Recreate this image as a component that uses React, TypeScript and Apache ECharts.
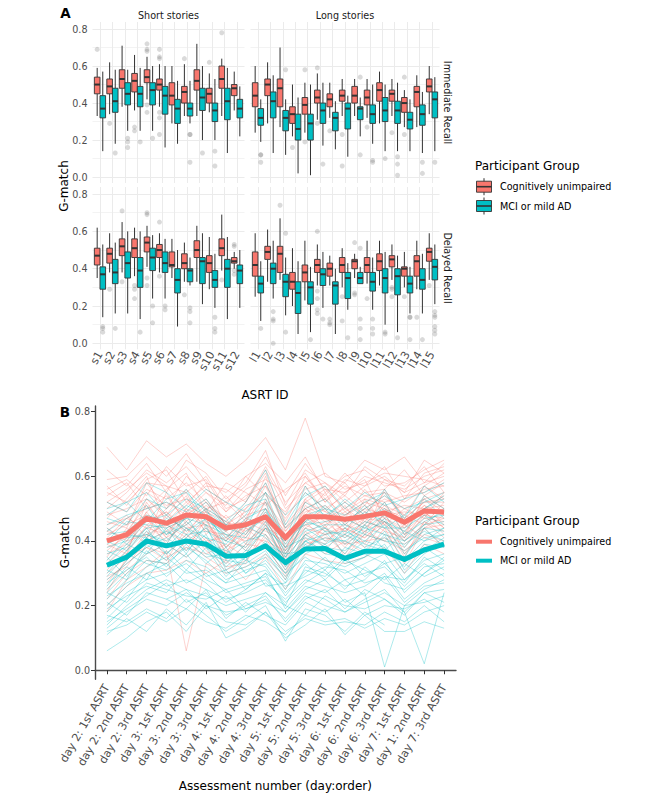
import React, { useEffect, useRef } from 'react';
import * as echarts from 'echarts';

// ---------- categories / labels ----------
const shortIds = ['s1', 's2', 's3', 's4', 's5', 's6', 's7', 's8', 's9', 's10', 's11', 's12'];
const longIds = ['l1', 'l2', 'l3', 'l4', 'l5', 'l6', 'l7', 'l8', 'l9', 'l10', 'l11', 'l12', 'l13', 'l14', 'l15'];
const sessionLabels = [
  'day 2: 1st ASRT', 'day 2: 2nd ASRT', 'day 2: 3rd ASRT',
  'day 3: 1st ASRT', 'day 3: 2nd ASRT', 'day 3: 3rd ASRT',
  'day 4: 1st ASRT', 'day 4: 2nd ASRT', 'day 4: 3rd ASRT',
  'day 5: 1st ASRT', 'day 5: 2nd ASRT', 'day 5: 3rd ASRT',
  'day 6: 1st ASRT', 'day 6: 2nd ASRT', 'day 6: 3rd ASRT',
  'day 7: 1st ASRT', 'day 1: 2nd ASRT', 'day 7: 3rd ASRT',
];
const yMajor = [0, 0.2, 0.4, 0.6, 0.8];
const yMinor = [0, 0.1, 0.2, 0.3, 0.4, 0.5, 0.6, 0.7, 0.8];
const groupNames = ['Cognitively unimpaired', 'MCI or mild AD'];

// ---------- Panel A: box stats [lowWhisker, Q1, median, Q3, highWhisker] ----------
const shortImmCU = [
  [0.33, 0.45, 0.50, 0.54, 0.59], [0.34, 0.45, 0.49, 0.53, 0.62], [0.38, 0.48, 0.53, 0.58, 0.71],
  [0.36, 0.46, 0.52, 0.56, 0.66], [0.42, 0.51, 0.54, 0.58, 0.65], [0.38, 0.47, 0.50, 0.53, 0.61],
  [0.29, 0.39, 0.44, 0.51, 0.60], [0.33, 0.40, 0.46, 0.49, 0.61], [0.33, 0.47, 0.52, 0.58, 0.72],
  [0.35, 0.40, 0.45, 0.48, 0.56], [0.33, 0.48, 0.53, 0.60, 0.64], [0.36, 0.44, 0.48, 0.50, 0.57],
];
const shortImmCUOut = [[0.69], [0.29], [], [0.27, 0.25], [0.72, 0.69, 0.68, 0.39, 0.35], [0.69, 0.65, 0.64, 0.35, 0.32, 0.23], [], [0.64], [], [0.62], [0.78], []];
const shortImmMCI = [
  [0.14, 0.32, 0.37, 0.44, 0.57], [0.18, 0.35, 0.41, 0.48, 0.58], [0.25, 0.39, 0.45, 0.51, 0.58],
  [0.25, 0.38, 0.45, 0.49, 0.59], [0.25, 0.39, 0.47, 0.51, 0.60], [0.16, 0.34, 0.44, 0.49, 0.60],
  [0.18, 0.29, 0.37, 0.42, 0.52], [0.29, 0.33, 0.37, 0.40, 0.52], [0.20, 0.36, 0.43, 0.48, 0.60],
  [0.20, 0.30, 0.36, 0.40, 0.53], [0.13, 0.31, 0.41, 0.48, 0.59], [0.22, 0.32, 0.37, 0.42, 0.49],
];
const shortImmMCIOut = [[], [0.13], [0.21, 0.19, 0.16], [0.19], [0.21], [], [], [0.23, 0.23, 0.08], [0.13], [0.14, 0.06], [], []];

const longImmCU = [
  [0.24, 0.38, 0.44, 0.51, 0.60], [0.29, 0.44, 0.50, 0.53, 0.62], [0.27, 0.38, 0.48, 0.53, 0.70],
  [0.22, 0.29, 0.34, 0.38, 0.50], [0.24, 0.34, 0.39, 0.43, 0.51], [0.31, 0.40, 0.43, 0.47, 0.56],
  [0.32, 0.38, 0.42, 0.45, 0.51], [0.33, 0.41, 0.44, 0.47, 0.53], [0.33, 0.40, 0.44, 0.49, 0.53],
  [0.32, 0.39, 0.43, 0.47, 0.53], [0.29, 0.41, 0.47, 0.51, 0.57], [0.33, 0.41, 0.45, 0.47, 0.53],
  [0.27, 0.35, 0.40, 0.43, 0.47], [0.27, 0.38, 0.46, 0.49, 0.55], [0.34, 0.46, 0.49, 0.53, 0.60],
];
const longImmCUOut = [[], [], [], [0.16], [0.58, 0.19], [0.59, 0.29], [0.25], [0.23, 0.06], [], [0.27], [], [0.24], [0.54, 0.23], [], []];
const longImmMCI = [
  [0.19, 0.28, 0.32, 0.37, 0.42], [0.13, 0.32, 0.41, 0.46, 0.55], [0.12, 0.25, 0.32, 0.36, 0.42],
  [0.02, 0.20, 0.26, 0.34, 0.43], [0.01, 0.20, 0.29, 0.34, 0.50], [0.17, 0.29, 0.36, 0.40, 0.51],
  [0.15, 0.25, 0.32, 0.35, 0.41], [0.11, 0.26, 0.37, 0.40, 0.44], [0.22, 0.31, 0.37, 0.38, 0.43],
  [0.18, 0.29, 0.34, 0.39, 0.50], [0.14, 0.30, 0.36, 0.43, 0.50], [0.14, 0.29, 0.36, 0.41, 0.51],
  [0.14, 0.26, 0.31, 0.35, 0.42], [0.13, 0.28, 0.34, 0.39, 0.46], [0.14, 0.32, 0.42, 0.46, 0.54],
];
const longImmMCIOut = [[0.12, 0.12, 0.08], [], [0.58], [], [], [0.07], [], [], [0.54, 0.12], [0.09, 0.08], [0.10], [0.11, 0.07, 0.01], [], [0.08, 0.02], [0.08]];

const shortDelCU = [
  [0.35, 0.42, 0.47, 0.51, 0.62], [0.38, 0.43, 0.48, 0.51, 0.59], [0.38, 0.47, 0.52, 0.56, 0.65],
  [0.36, 0.46, 0.51, 0.56, 0.62], [0.41, 0.49, 0.54, 0.57, 0.63], [0.38, 0.46, 0.50, 0.53, 0.59],
  [0.35, 0.41, 0.42, 0.49, 0.56], [0.33, 0.40, 0.43, 0.48, 0.54], [0.33, 0.46, 0.50, 0.55, 0.63],
  [0.29, 0.38, 0.43, 0.47, 0.57], [0.39, 0.47, 0.51, 0.56, 0.69], [0.40, 0.43, 0.44, 0.46, 0.49],
];
const shortDelCUOut = [[], [0.29], [0.71, 0.33], [0.31, 0.29, 0.24], [0.70, 0.69, 0.35, 0.31], [0.65, 0.36], [], [0.26], [], [], [0.34], [0.53, 0.52, 0.39, 0.37]];
const shortDelMCI = [
  [0.14, 0.29, 0.37, 0.41, 0.53], [0.16, 0.32, 0.38, 0.45, 0.54], [0.16, 0.35, 0.43, 0.49, 0.60],
  [0.13, 0.30, 0.39, 0.46, 0.60], [0.24, 0.39, 0.46, 0.51, 0.58], [0.24, 0.38, 0.43, 0.49, 0.56],
  [0.09, 0.27, 0.34, 0.40, 0.50], [0.31, 0.33, 0.39, 0.40, 0.46], [0.21, 0.32, 0.44, 0.46, 0.59],
  [0.19, 0.30, 0.34, 0.39, 0.48], [0.13, 0.30, 0.40, 0.45, 0.57], [0.19, 0.32, 0.39, 0.42, 0.50],
];
const shortDelMCIOut = [[0.09, 0.08, 0.06], [0.08], [], [0.06], [0.20, 0.11], [0.20, 0.18], [], [0.19, 0.17, 0.11], [], [0.14, 0.08, 0.06], [], []];

const longDelCU = [
  [0.25, 0.36, 0.42, 0.49, 0.59], [0.33, 0.45, 0.49, 0.52, 0.61], [0.34, 0.38, 0.48, 0.52, 0.67],
  [0.20, 0.29, 0.33, 0.38, 0.51], [0.23, 0.33, 0.38, 0.42, 0.55], [0.31, 0.38, 0.42, 0.45, 0.53],
  [0.31, 0.36, 0.40, 0.43, 0.47], [0.30, 0.38, 0.42, 0.46, 0.51], [0.35, 0.40, 0.44, 0.45, 0.48],
  [0.32, 0.38, 0.42, 0.46, 0.55], [0.31, 0.39, 0.44, 0.48, 0.55], [0.34, 0.41, 0.45, 0.47, 0.53],
  [0.30, 0.36, 0.40, 0.41, 0.49], [0.29, 0.36, 0.44, 0.47, 0.55], [0.34, 0.44, 0.49, 0.51, 0.59],
];
const longDelCUOut = [[], [], [0.74], [], [], [0.60, 0.28, 0.24, 0.18, 0.16], [0.13, 0.11, 0.10], [0.25, 0.12], [0.54, 0.27, 0.26], [0.24], [], [0.30, 0.29, 0.25], [0.25], [0.14], [0.31]];
const longDelMCI = [
  [0.12, 0.27, 0.32, 0.36, 0.44], [0.24, 0.32, 0.40, 0.43, 0.55], [0.15, 0.25, 0.33, 0.37, 0.46],
  [0.05, 0.16, 0.27, 0.33, 0.44], [0.06, 0.21, 0.30, 0.33, 0.41], [0.19, 0.31, 0.37, 0.40, 0.49],
  [0.05, 0.21, 0.31, 0.33, 0.40], [0.18, 0.24, 0.35, 0.38, 0.43], [0.32, 0.32, 0.35, 0.38, 0.41],
  [0.18, 0.28, 0.33, 0.38, 0.46], [0.10, 0.27, 0.35, 0.40, 0.49], [0.06, 0.26, 0.36, 0.40, 0.47],
  [0.16, 0.27, 0.32, 0.36, 0.41], [0.16, 0.29, 0.34, 0.40, 0.48], [0.21, 0.34, 0.41, 0.45, 0.53],
];
const longDelMCIOut = [[0.08], [0.17, 0.13, 0.12, 0.0], [0.59, 0.06], [], [0.02], [0.13], [], [0.03], [0.51, 0.13, 0.08, 0.02], [0.13, 0.08, 0.05], [0.06, 0.05], [0.03], [0.14, 0.14, 0.02], [0.02], [0.17, 0.15, 0.14, 0.09, 0.07, 0.05]];

// ---------- Panel B: group means and individual trajectories (G-match x100) ----------
const cuMean = [0.40, 0.42, 0.47, 0.455, 0.48, 0.475, 0.44, 0.45, 0.475, 0.41, 0.475, 0.475, 0.467, 0.476, 0.487, 0.458, 0.493, 0.49];
const mciMean = [0.325, 0.35, 0.40, 0.385, 0.40, 0.39, 0.353, 0.355, 0.385, 0.333, 0.375, 0.377, 0.346, 0.368, 0.368, 0.343, 0.372, 0.39];

const cuLines = [
  [69, 62, 71, 66, 70, 64, 60, 65, 72, 62, 78, 60, 58, 65, 62, 66, 58, 64],
  [59, 60, 66, 60, 67, 58, 55, 60, 64, 58, 66, 55, 60, 62, 57, 58, 62, 65],
  [55, 52, 58, 57, 55, 60, 50, 53, 62, 50, 56, 58, 52, 57, 60, 55, 58, 60],
  [52, 49, 56, 53, 58, 52, 47, 50, 58, 45, 52, 56, 50, 54, 55, 52, 56, 57],
  [48, 50, 53, 48, 56, 50, 52, 46, 55, 47, 55, 50, 54, 49, 53, 50, 53, 55],
  [45, 47, 50, 52, 48, 53, 45, 49, 52, 44, 50, 53, 48, 52, 50, 47, 52, 52],
  [42, 45, 48, 46, 52, 47, 43, 48, 50, 42, 48, 47, 52, 48, 55, 46, 50, 54],
  [40, 43, 51, 44, 47, 49, 46, 43, 48, 40, 49, 51, 46, 50, 48, 49, 48, 50],
  [38, 41, 46, 49, 44, 45, 40, 45, 46, 38, 47, 45, 49, 45, 51, 44, 51, 48],
  [36, 39, 44, 42, 50, 43, 42, 40, 44, 41, 45, 48, 43, 47, 46, 42, 47, 46],
  [34, 40, 42, 45, 41, 46, 38, 44, 42, 36, 44, 42, 45, 43, 48, 45, 49, 44],
  [32, 36, 45, 40, 46, 40, 41, 38, 47, 35, 42, 46, 41, 46, 44, 40, 45, 47],
  [30, 35, 40, 43, 39, 44, 37, 41, 40, 37, 46, 40, 44, 41, 47, 43, 48, 42],
  [28, 33, 38, 36, 42, 38, 35, 36, 44, 33, 40, 44, 38, 45, 42, 39, 44, 45],
  [25, 31, 36, 39, 35, 41, 33, 39, 38, 30, 43, 38, 42, 38, 46, 35, 46, 43],
  [22, 30, 34, 33, 40, 35, 31, 34, 42, 32, 38, 42, 36, 43, 40, 37, 42, 40],
  [18, 28, 32, 37, 6, 33, 30, 32, 36, 28, 41, 36, 40, 36, 44, 33, 44, 38],
  [50, 55, 62, 58, 63, 56, 52, 57, 66, 54, 64, 56, 55, 60, 58, 56, 60, 62],
  [46, 44, 58, 50, 60, 55, 49, 54, 57, 48, 60, 52, 57, 54, 52, 54, 55, 59],
  [43, 48, 41, 55, 45, 50, 41, 46, 60, 43, 52, 49, 47, 56, 49, 51, 50, 48],
  [37, 42, 53, 47, 54, 42, 48, 42, 49, 39, 50, 44, 51, 42, 56, 47, 52, 53],
  [33, 38, 47, 41, 50, 47, 36, 47, 45, 34, 53, 47, 43, 49, 45, 41, 54, 50],
  [27, 34, 43, 35, 38, 36, 39, 35, 41, 31, 39, 41, 39, 40, 41, 38, 46, 41],
  [57, 51, 59, 62, 52, 57, 56, 52, 63, 52, 58, 61, 56, 58, 61, 60, 59, 57],
  [20, 26, 30, 31, 34, 30, 34, 28, 35, 25, 36, 34, 33, 35, 38, 30, 39, 36],
  [54, 58, 50, 56, 61, 49, 58, 55, 51, 56, 60, 53, 58, 51, 59, 57, 63, 55],
  [47, 53, 60, 45, 51, 58, 44, 52, 61, 46, 57, 49, 55, 59, 47, 53, 57, 61],
  [44, 40, 49, 54, 46, 51, 47, 39, 53, 42, 48, 55, 45, 50, 54, 48, 45, 52],
  [41, 47, 44, 50, 55, 44, 40, 50, 55, 37, 51, 47, 50, 46, 52, 42, 53, 49],
  [39, 36, 52, 43, 48, 52, 45, 46, 43, 40, 46, 50, 42, 53, 45, 50, 47, 55],
  [35, 44, 39, 48, 43, 49, 36, 42, 52, 33, 48, 43, 47, 44, 50, 46, 51, 45],
  [31, 37, 49, 41, 45, 39, 43, 37, 46, 38, 44, 48, 39, 47, 43, 41, 49, 44],
  [29, 32, 41, 46, 37, 47, 34, 44, 39, 29, 42, 39, 46, 39, 49, 36, 44, 48],
  [24, 35, 38, 34, 44, 37, 32, 33, 45, 34, 37, 45, 35, 42, 40, 45, 41, 39],
  [62, 57, 64, 55, 65, 61, 53, 58, 68, 51, 62, 58, 54, 63, 59, 55, 65, 61],
  [52, 56, 61, 57, 49, 55, 51, 60, 54, 49, 58, 54, 61, 55, 56, 62, 54, 58],
  [49, 45, 55, 51, 53, 48, 54, 47, 57, 44, 53, 57, 49, 53, 51, 48, 57, 53],
  [null, null, 45, 49, 42, 50, 46, 41, 50, 43, 50, 46, 48, 51, 47, 44, 50, 51],
  [43, 41, 47, 39, 49, 45, 38, 45, 48, 36, 45, 42, 44, 41, 46, 40, 48, 47],
  [56, 59, 54, 63, 57, 59, 49, 56, 59, 55, 61, 52, 59, 57, 63, 53, 61, 63],
];
const mciLines = [
  [50, 52, 55, 48, 53, 50, 46, 52, 62, 45, 55, 50, 48, 52, 55, 47, 57, 52],
  [47, 45, 53, 50, 56, 46, 43, 48, 58, 44, 50, 53, 46, 50, 54, 50, 52, 55],
  [45, 48, 50, 52, 49, 53, 45, 44, 55, 40, 52, 48, 52, 47, 50, 45, 54, 50],
  [42, 43, 48, 46, 51, 48, 40, 46, 52, 38, 48, 50, 44, 49, 46, 43, 50, 53],
  [40, 46, 45, 44, 47, 45, 42, 41, 49, 42, 45, 46, 47, 44, 48, 41, 47, 48],
  [38, 40, 47, 42, 45, 50, 38, 43, 47, 35, 47, 43, 42, 46, 44, 44, 48, 45],
  [36, 38, 44, 45, 42, 43, 40, 38, 45, 37, 43, 45, 45, 42, 47, 38, 45, 46],
  [34, 41, 42, 40, 46, 41, 36, 40, 42, 33, 44, 40, 40, 44, 42, 40, 44, 43],
  [32, 35, 40, 43, 40, 44, 35, 36, 44, 34, 40, 42, 43, 40, 45, 36, 42, 44],
  [30, 37, 43, 38, 44, 39, 37, 34, 40, 31, 42, 38, 37, 42, 40, 39, 43, 40],
  [28, 33, 38, 41, 37, 42, 32, 37, 38, 30, 38, 41, 40, 37, 43, 34, 40, 42],
  [26, 34, 41, 36, 42, 36, 34, 33, 37, 28, 40, 36, 35, 40, 38, 32, 39, 38],
  [24, 30, 36, 39, 35, 40, 30, 32, 35, 29, 36, 39, 33, 35, 39, 30, 36, 40],
  [22, 28, 34, 33, 38, 34, 28, 31, 33, 25, 34, 33, 30, 33, 36, 28, 34, 36],
  [20, 26, 32, 35, 30, 31, 27, 29, 31, 24, 30, 35, 28, 30, 32, 26, 32, 33],
  [18, 24, 28, 30, 33, 28, 25, 27, 29, 20, 32, 30, 26, 28, 34, 24, 30, 35],
  [16, 22, 30, 26, 28, 25, 22, 24, 27, 22, 28, 26, 24, 26, 30, 22, 27, 30],
  [14, 20, 25, 28, 25, 23, 20, 22, 24, 18, 25, 28, 21, 24, 1, 20, 25, 28],
  [13, 18, 22, 20, 24, 20, 18, 19, 22, 16, 23, 20, 18, 22, 25, 18, 2, 24],
  [6, 10, 15, 18, 12, 20, 15, 14, 18, 12, 16, 14, 15, 14, 18, 15, 20, 15],
  [17, 15, 19, 16, 22, 17, 12, 16, 20, 9, 19, 17, 12, 18, 14, null, null, null],
  [25, 32, 28, 37, 31, 38, 29, 35, 26, 27, 33, 28, 34, 31, 28, 33, 29, 32],
  [35, 29, 37, 32, 39, 33, 38, 30, 36, 30, 35, 31, 38, 36, 33, 35, 38, 34],
  [44, 39, 46, 48, 43, 47, 41, 47, 50, 39, 46, 44, 41, 45, 52, 42, 46, 49],
  [29, 36, 33, 31, 36, 29, 31, 25, 30, 26, 29, 32, 31, 27, 29, 28, 33, 29],
  [21, 17, 24, 22, 19, 25, 16, 21, 17, 14, 21, 18, 22, 17, 20, 19, 22, 18],
  [52, 49, 58, 55, 50, 56, 52, 49, 55, 48, 54, 57, 50, 55, 51, 53, 55, 58],
  [48, 52, 46, 53, 55, 49, 45, 51, 53, 40, 57, 47, 53, 48, 56, 46, 50, 54],
  [43, 47, 51, 42, 47, 52, 44, 42, 50, 36, 46, 51, 45, 51, 44, 48, 53, 47],
  [39, 42, 41, 47, 44, 41, 39, 45, 41, 35, 42, 44, 39, 43, 46, 40, 45, 50],
  [37, 34, 42, 39, 48, 38, 33, 39, 46, 32, 40, 37, 44, 38, 41, 37, 41, 42],
  [33, 39, 36, 44, 36, 45, 31, 35, 39, 36, 37, 43, 36, 45, 37, 35, 44, 38],
  [31, 28, 39, 34, 40, 35, 36, 30, 34, 27, 39, 34, 32, 35, 42, 31, 37, 41],
  [27, 31, 35, 29, 34, 32, 27, 34, 32, 23, 31, 29, 35, 29, 33, 27, 35, 31],
  [23, 27, 30, 33, 27, 30, 24, 26, 28, 21, 27, 31, 25, 32, 27, 25, 30, 34],
  [19, 23, 26, 24, 31, 27, 21, 25, 30, 19, 26, 24, 28, 23, 29, 21, 26, 27],
  [15, 19, 23, 27, 21, 24, 17, 20, 23, 15, 22, 25, 19, 25, 22, 17, 24, 25],
  [12, 14, 18, 15, 19, 15, 13, 17, 15, 11, 17, 15, 16, 13, 16, 14, 18, 20],
  [11, 16, 12, 19, 14, 21, 10, 13, 18, 10, 14, 19, 11, 17, 12, 12, 15, 13],
  [24, 21, 27, 25, 23, 22, 25, 19, 21, 18, 24, 22, 18, 21, 24, 20, 21, 23],
  [null, null, null, 22, 25, 19, 23, 18, 24, 20, 17, 23, 20, 19, 22, 18, 24, 21],
  [40, 37, 44, 36, 41, 47, 42, 37, 44, 38, 41, 39, 42, 39, 37, 43, 40, 44],
];

const CU_COLOR = '#F8766D';
const MCI_COLOR = '#00BFC4';
const FONT = 'DejaVu Sans';
const DODGE = 0.225;
const XLAB_SIZE = 11.2;

const facets = [
  { ids: shortIds, cu: shortImmCU, cuOut: shortImmCUOut, mci: shortImmMCI, mciOut: shortImmMCIOut, grid: { left: 92.5, top: 22, width: 152, height: 161 }, showX: false, showY: true },
  { ids: longIds, cu: longImmCU, cuOut: longImmCUOut, mci: longImmMCI, mciOut: longImmMCIOut, grid: { left: 250.5, top: 22, width: 189, height: 161 }, showX: false, showY: false },
  { ids: shortIds, cu: shortDelCU, cuOut: shortDelCUOut, mci: shortDelMCI, mciOut: shortDelMCIOut, grid: { left: 92.5, top: 187, width: 152, height: 162.3 }, showX: true, showY: true },
  { ids: longIds, cu: longDelCU, cuOut: longDelCUOut, mci: longDelMCI, mciOut: longDelMCIOut, grid: { left: 250.5, top: 187, width: 189, height: 162.3 }, showX: true, showY: false },
];

const boxRender = (color: string) => (params: any, api: any) => {
  const x = api.value(0);
  const pLo = api.coord([x, api.value(1)]);
  const pQ1 = api.coord([x, api.value(2)]);
  const pMed = api.coord([x, api.value(3)]);
  const pQ3 = api.coord([x, api.value(4)]);
  const pHi = api.coord([x, api.value(5)]);
  const hw = api.size([DODGE, 0])[0];
  const cx = pLo[0];
  const stroke = '#333333';
  return {
    type: 'group',
    children: [
      { type: 'line', shape: { x1: cx, y1: pHi[1], x2: cx, y2: pQ3[1] }, style: { stroke, lineWidth: 1 } },
      { type: 'line', shape: { x1: cx, y1: pQ1[1], x2: cx, y2: pLo[1] }, style: { stroke, lineWidth: 1 } },
      { type: 'rect', shape: { x: cx - hw, y: pQ3[1], width: 2 * hw, height: pQ1[1] - pQ3[1] }, style: { fill: color, stroke, lineWidth: 0.9 } },
      { type: 'line', shape: { x1: cx - hw, y1: pMed[1], x2: cx + hw, y2: pMed[1] }, style: { stroke, lineWidth: 2 } },
    ],
  };
};

function buildOption() {
  const grid: any[] = [];
  const xAxis: any[] = [];
  const yAxis: any[] = [];
  const series: any[] = [];

  facets.forEach((f, g) => {
    grid.push({ ...f.grid, containLabel: false, outerBoundsMode: 'none' });
    const n = f.ids.length;
    const idx = f.ids.map((_, i) => i + 1);
    // empty sentinel labels at both ends so that no real label is dropped by min/max overlap handling
    const labelVals = [0.45, ...idx, n + 0.55];
    xAxis.push({
      gridIndex: g, type: 'value', min: 0.4, max: n + 0.6,
      axisLine: { show: false },
      axisTick: { show: false, customValues: idx },
      splitLine: { show: true, lineStyle: { color: '#EBEBEB', width: 1 } },
      axisLabel: {
        show: f.showX, customValues: labelVals,
        formatter: (v: number) => (Math.abs(v - Math.round(v)) < 1e-6 ? f.ids[Math.round(v) - 1] || '' : ''),
        rotate: 60, fontSize: XLAB_SIZE, color: '#4D4D4D', margin: 3, fontFamily: FONT,
        showMinLabel: false, showMaxLabel: false, hideOverlap: false,
      },
    });
    yAxis.push({
      gridIndex: g, type: 'value', min: -0.032, max: 0.838,
      axisLine: { show: false },
      axisTick: { show: false, customValues: yMinor },
      splitLine: { show: true, lineStyle: { color: ['#EBEBEB', '#F3F3F3'], width: 1 } },
      axisLabel: {
        show: f.showY, customValues: yMajor, formatter: (v: number) => v.toFixed(1),
        fontSize: 9.6, color: '#4D4D4D', margin: 5, fontFamily: FONT,
        showMinLabel: true, showMaxLabel: true,
      },
    });
    const outPts = (outs: number[][], off: number) =>
      outs.flatMap((arr, i) => arr.map((v) => [i + 1 + off, v]));
    series.push({
      type: 'scatter', xAxisIndex: g, yAxisIndex: g, silent: true, z: 2,
      data: [...outPts(f.cuOut, -DODGE), ...outPts(f.mciOut, DODGE)],
      symbolSize: 5, itemStyle: { color: 'rgba(90,90,90,0.28)' },
    });
    [[f.cu, -DODGE, CU_COLOR], [f.mci, DODGE, MCI_COLOR]].forEach(([stats, off, color]: any) => {
      series.push({
        type: 'custom', xAxisIndex: g, yAxisIndex: g, silent: true, z: 3,
        renderItem: boxRender(color),
        encode: { x: 0, y: [1, 2, 3, 4, 5] },
        data: stats.map((s: number[], i: number) => [i + 1 + off, ...s]),
      });
    });
  });

  // Panel B
  grid.push({ left: 95, top: 406, width: 361, height: 273.3, containLabel: false, outerBoundsMode: 'none' });
  const sIdx = sessionLabels.map((_, i) => i + 1);
  const axisColor = '#4A4A4A';
  xAxis.push({
    gridIndex: 4, type: 'value', min: 0.4, max: 18.6,
    axisLine: { show: true, lineStyle: { color: axisColor, width: 1.4 } },
    axisTick: { show: true, customValues: sIdx, length: 4, lineStyle: { color: '#333', width: 1 } },
    splitLine: { show: false },
    axisLabel: {
      customValues: sIdx, formatter: (v: number) => sessionLabels[Math.round(v) - 1] || '',
      rotate: 60, fontSize: XLAB_SIZE, color: '#4D4D4D', margin: 6, fontFamily: FONT,
      showMinLabel: true, showMaxLabel: true, hideOverlap: false,
    },
  });
  yAxis.push({
    gridIndex: 4, type: 'value', min: -0.028, max: 0.8176,
    axisLine: { show: true, lineStyle: { color: axisColor, width: 1.4 } },
    axisTick: { show: true, customValues: yMajor, length: 4, lineStyle: { color: '#333', width: 1 } },
    splitLine: { show: false },
    axisLabel: {
      customValues: yMajor, formatter: (v: number) => v.toFixed(1),
      fontSize: 9.6, color: '#4D4D4D', margin: 5, fontFamily: FONT,
      showMinLabel: true, showMaxLabel: true,
    },
  });
  const toPairs = (row: (number | null)[]) => row.map((v, i) => [i + 1, v == null ? '-' : v / 100]);
  const indiv = (rows: (number | null)[][], color: string) =>
    rows.map((row) => ({
      type: 'line', xAxisIndex: 4, yAxisIndex: 4, silent: true, z: 2,
      symbol: 'none', showSymbol: false, connectNulls: false,
      data: toPairs(row),
      lineStyle: { color, width: 1, opacity: 0.32 },
    }));
  series.push(...indiv(cuLines, CU_COLOR));
  series.push(...indiv(mciLines, MCI_COLOR));
  [[cuMean, CU_COLOR], [mciMean, MCI_COLOR]].forEach(([vals, color]: any) => {
    series.push({
      type: 'line', xAxisIndex: 4, yAxisIndex: 4, silent: true, z: 4,
      symbol: 'none', showSymbol: false,
      data: vals.map((v: number, i: number) => [i + 1, v]),
      lineStyle: { color, width: 5, opacity: 1, join: 'round' },
    });
  });

  const txt = (text: string, x: number, y: number, size: number, opts: any = {}) => ({
    type: 'text', x, y, rotation: opts.rotation || 0, z: 10,
    style: {
      text, fontSize: size, fontFamily: FONT, fill: opts.fill || '#1A1A1A',
      fontWeight: opts.bold ? 'bold' : 'normal',
      align: opts.align || 'center', verticalAlign: 'middle',
    },
  });
  const boxKey = (y: number, color: string) => ({
    type: 'group', z: 10,
    children: [
      { type: 'line', shape: { x1: 484, y1: y - 8.5, x2: 484, y2: y + 8.5 }, style: { stroke: '#333', lineWidth: 1 } },
      { type: 'rect', shape: { x: 476.5, y: y - 5.5, width: 15, height: 11 }, style: { fill: color, stroke: '#333', lineWidth: 0.9 } },
      { type: 'line', shape: { x1: 476.5, y1: y, x2: 491.5, y2: y }, style: { stroke: '#333', lineWidth: 1.6 } },
    ],
  });
  const lineKey = (y: number, color: string) => ({
    type: 'line', z: 10, shape: { x1: 476, y1: y, x2: 492, y2: y }, style: { stroke: color, lineWidth: 4 },
  });

  const graphic = [
    txt('A', 65.5, 12.5, 13.5, { bold: true, fill: '#000' }),
    txt('B', 65, 411.5, 13.5, { bold: true, fill: '#000' }),
    txt('Short stories', 168.5, 15.5, 9.6),
    txt('Long stories', 345, 15.5, 9.6),
    txt('Immediate Recall', 447, 102.5, 9.6, { rotation: -Math.PI / 2 }),
    txt('Delayed Recall', 447, 268, 9.6, { rotation: -Math.PI / 2 }),
    txt('G-match', 64, 186, 12, { rotation: Math.PI / 2, fill: '#000' }),
    txt('ASRT ID', 265, 395, 12, { fill: '#000' }),
    txt('G-match', 65, 542.5, 12, { rotation: Math.PI / 2, fill: '#000' }),
    txt('Assessment number (day:order)', 275.4, 785.7, 12, { fill: '#000' }),
    txt('Participant Group', 475, 165.7, 12, { align: 'left', fill: '#000' }),
    boxKey(186.7, CU_COLOR),
    boxKey(206, MCI_COLOR),
    txt(groupNames[0], 500, 186.7, 9.6, { align: 'left', fill: '#000' }),
    txt(groupNames[1], 500, 206, 9.6, { align: 'left', fill: '#000' }),
    txt('Participant Group', 475, 520.7, 12, { align: 'left', fill: '#000' }),
    lineKey(541.7, CU_COLOR),
    lineKey(560.7, MCI_COLOR),
    txt(groupNames[0], 500, 541.7, 9.6, { align: 'left', fill: '#000' }),
    txt(groupNames[1], 500, 560.7, 9.6, { align: 'left', fill: '#000' }),
  ];

  return {
    animation: false,
    backgroundColor: '#ffffff',
    textStyle: { fontFamily: FONT },
    grid, xAxis, yAxis, series, graphic,
  };
}

export default function App() {
  const ref = useRef<HTMLDivElement>(null);
  useEffect(() => {
    if (!ref.current) return;
    const chart = echarts.init(ref.current, undefined, { renderer: 'svg' });
    chart.setOption(buildOption() as any);
    return () => chart.dispose();
  }, []);
  return (
    <div
      ref={ref}
      style={{ position: 'absolute', left: 0, top: 0, width: 666, height: 799, background: '#fff' }}
    />
  );
}
